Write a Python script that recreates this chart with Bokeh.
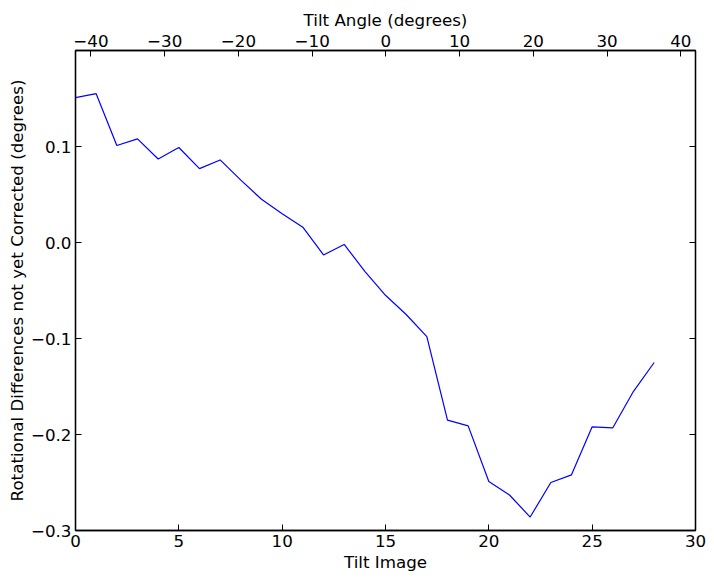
from bokeh.plotting import figure
from bokeh.models import LinearAxis, Range1d, FixedTicker
from bokeh.embed import file_html
from bokeh.resources import INLINE

tilt_image = list(range(29))
rot_diff = [0.151, 0.155, 0.101, 0.108, 0.087, 0.099, 0.077, 0.086, 0.065, 0.045,
            0.030, 0.016, -0.013, -0.002, -0.030, -0.055, -0.075, -0.098, -0.185,
            -0.191, -0.249, -0.263, -0.286, -0.250, -0.242, -0.192, -0.193, -0.155, -0.125]

x_ticks = [0, 5, 10, 15, 20, 25, 30]
x_tick_labels = ["0", "5", "10", "15", "20", "25", "30"]
y_ticks = [-0.3, -0.2, -0.1, 0.0, 0.1]
y_tick_labels = ["\u22120.3", "\u22120.2", "\u22120.1", "0.0", "0.1"]
angle_ticks = [-40, -30, -20, -10, 0, 10, 20, 30, 40]
angle_tick_labels = ["\u221240", "\u221230", "\u221220", "\u221210", "0", "10", "20", "30", "40"]
angle_range = (-42.1, 42.0)

FONT = "DejaVu Sans"
FS = "16.7px"

p = figure(width=706, height=574, output_backend="svg", toolbar_location=None,
           x_range=Range1d(0, 30), y_range=Range1d(-0.3, 0.2),
           min_border_left=75, min_border_right=11, min_border_top=50, min_border_bottom=44,
           x_axis_label="Tilt Image",
           y_axis_label="Rotational Differences not yet Corrected (degrees)")
p.extra_x_ranges = {"angle": Range1d(*angle_range)}

p.line(tilt_image, rot_diff, line_color="#0000ff", line_width=1.2)

p.xgrid.visible = False
p.ygrid.visible = False
p.outline_line_color = "black"
p.outline_line_width = 1.3
p.background_fill_color = "white"
p.border_fill_color = "white"

top_axis = LinearAxis(x_range_name="angle", axis_label="Tilt Angle (degrees)")
p.add_layout(top_axis, "above")
right_axis = LinearAxis()
p.add_layout(right_axis, "right")

def style(ax):
    ax.major_tick_in = 6
    ax.major_tick_out = 0
    ax.minor_tick_in = 0
    ax.minor_tick_out = 0
    ax.major_tick_line_color = "black"
    ax.axis_line_color = "black"
    ax.axis_line_width = 1.3
    ax.major_label_text_font = FONT
    ax.major_label_text_font_size = FS
    ax.major_label_text_color = "black"
    ax.axis_label_text_font = FONT
    ax.axis_label_text_font_size = FS
    ax.axis_label_text_font_style = "normal"
    ax.axis_label_text_color = "black"
    ax.major_label_standoff = 4
    ax.axis_label_standoff = 2

bx = p.below[0]
ly = p.left[0]
for ax in (bx, ly, top_axis, right_axis):
    style(ax)
ly.axis_label_standoff = 1
ly.major_label_standoff = 4

bx.ticker = FixedTicker(ticks=x_ticks)
bx.major_label_overrides = dict(zip(x_ticks, x_tick_labels))
ly.ticker = FixedTicker(ticks=y_ticks)
ly.major_label_overrides = dict(zip(y_ticks, y_tick_labels))
top_axis.ticker = FixedTicker(ticks=angle_ticks)
top_axis.major_label_overrides = dict(zip(angle_ticks, angle_tick_labels))
right_axis.ticker = FixedTicker(ticks=y_ticks)
right_axis.major_label_overrides = {t: "" for t in y_ticks}
right_axis.major_label_standoff = 0

open("out.html", "w").write(file_html(p, INLINE))
